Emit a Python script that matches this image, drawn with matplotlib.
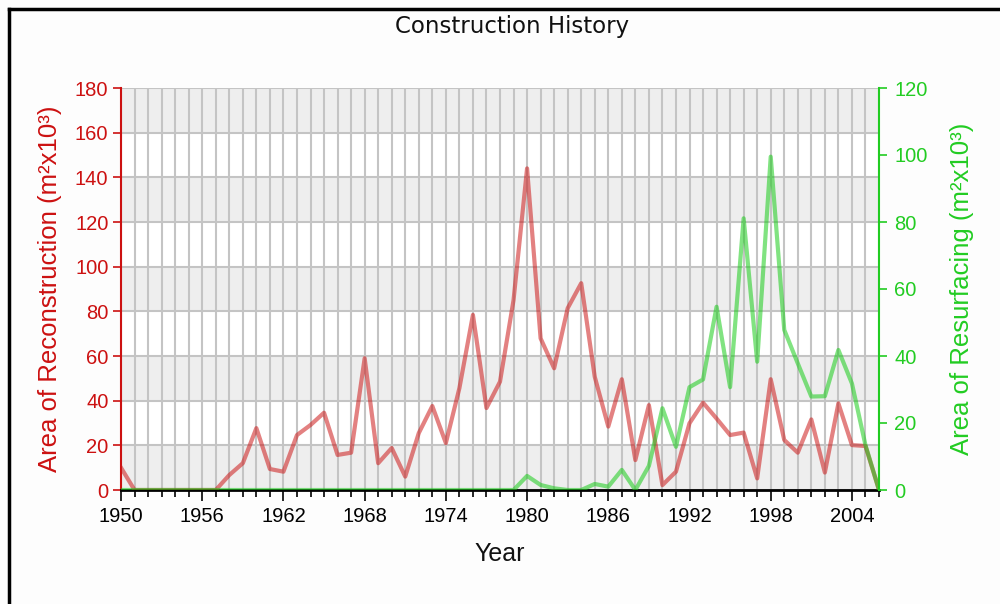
import matplotlib
matplotlib.use("Agg")
import matplotlib.pyplot as plt
from matplotlib.lines import Line2D
import numpy as np

years = list(range(1950, 2007))
reconstruction = [10, 0, 0, 0, 0, 0, 0, 0, 6.7, 12, 27.7, 9.4, 8.2, 24.6, 29.1, 34.6,
                  15.7, 16.7, 59, 12, 18.8, 6, 25.5, 37.6, 21, 45.6, 78.4, 36.7, 48.5, 85,
                  144, 67.9, 54.5, 81.4, 92.6, 50.7, 28.4, 49.6, 13.4, 38, 2.2, 8.2, 29.9,
                  39.1, 32, 24.6, 25.7, 5.2, 49.6, 22.4, 16.7, 31.6, 7.8, 38.8, 20.1, 19.7, 0]
resurfacing = [0] * 30 + [4.2, 1.5, 0.5, 0, 0, 1.8, 1, 6, 0, 7.2, 24.4, 12.9, 30.7, 33,
                          54.7, 30.7, 81.1, 38.3, 99.5, 47.8, 37.8, 27.9, 28, 41.8, 31.8, 13.4, 0]
xticks = list(range(1950, 2005, 6))
left_ticks = list(range(0, 181, 20))
right_ticks = list(range(0, 121, 20))

RED = "#cc1111"
GREEN = "#22cc22"
plt.rcParams['font.family'] = ['Liberation Sans', 'DejaVu Sans']

fig = plt.figure(figsize=(10, 6.04), dpi=100, facecolor="#fdfdfd")
ax = fig.add_axes([0.121, 1 - 490 / 604, 0.758, 402 / 604])
ax.set_facecolor("white")
ax.set_xlim(1950, 2006)
ax.set_ylim(0, 180)

# alternating bands
for i, lo in enumerate(left_ticks[:-1]):
    if i % 2 == 0:
        ax.axhspan(lo, lo + 20, color="#eeeeee", zorder=0, lw=0)

ax.set_xticks(xticks)
ax.set_xticks(years, minor=True)
ax.set_yticks(left_ticks)
ax.grid(True, which="both", axis="x", color="#c4c4c4", lw=1.5, zorder=1)
ax.grid(True, which="major", axis="y", color="#c4c4c4", lw=1.5, zorder=1)
ax.set_axisbelow(True)

ax.plot(years, reconstruction, color=(0.8, 0.1, 0.1, 0.55), lw=3, zorder=3)

ax2 = ax.twinx()
ax2.set_ylim(0, 120)
ax2.set_yticks(right_ticks)
ax2.plot(years, resurfacing, color=(0.1, 0.8, 0.1, 0.55), lw=3, zorder=3)

for a in (ax, ax2):
    a.spines["top"].set_visible(False)
ax.spines["right"].set_visible(False)
ax2.spines["left"].set_visible(False)
ax2.spines["bottom"].set_visible(False)
ax.spines["left"].set_color(RED)
ax.spines["left"].set_linewidth(1.5)
ax2.spines["right"].set_color(GREEN)
ax2.spines["right"].set_linewidth(1.5)
ax.spines["bottom"].set_color("black")
ax.spines["bottom"].set_linewidth(2)

ax.tick_params(axis="y", colors=RED, labelsize=14.5, length=6, width=1.2, pad=3)
ax2.tick_params(axis="y", colors=GREEN, labelsize=14.5, length=6, width=1.2, pad=5)
ax.tick_params(axis="x", which="major", labelsize=14.5, length=8, width=1.2, colors="black", pad=4)
ax.tick_params(axis="x", which="minor", length=5, width=1.2, colors="black")

ax.set_xlabel("Year", fontsize=18, color="#111111", labelpad=12)
ax.set_ylabel("Area of Reconstruction (m²x10³)", fontsize=18.5, color=RED, labelpad=9)
ax2.set_ylabel("Area of Resurfacing (m²x10³)", fontsize=18.5, color=GREEN, labelpad=16)

fig.text(0.512, 1 - 26 / 604, "Construction History", ha="center", va="center",
         fontsize=16.5, color="#111111", family="DejaVu Sans")

# frame lines (left and top)
fig.add_artist(Line2D([9 / 1000, 9 / 1000], [0, 1 - 9 / 604], transform=fig.transFigure, color="black", lw=2.5))
fig.add_artist(Line2D([9 / 1000, 1], [1 - 9 / 604, 1 - 9 / 604], transform=fig.transFigure, color="black", lw=2.5))

fig.savefig("out.png", dpi=100, facecolor=fig.get_facecolor())
